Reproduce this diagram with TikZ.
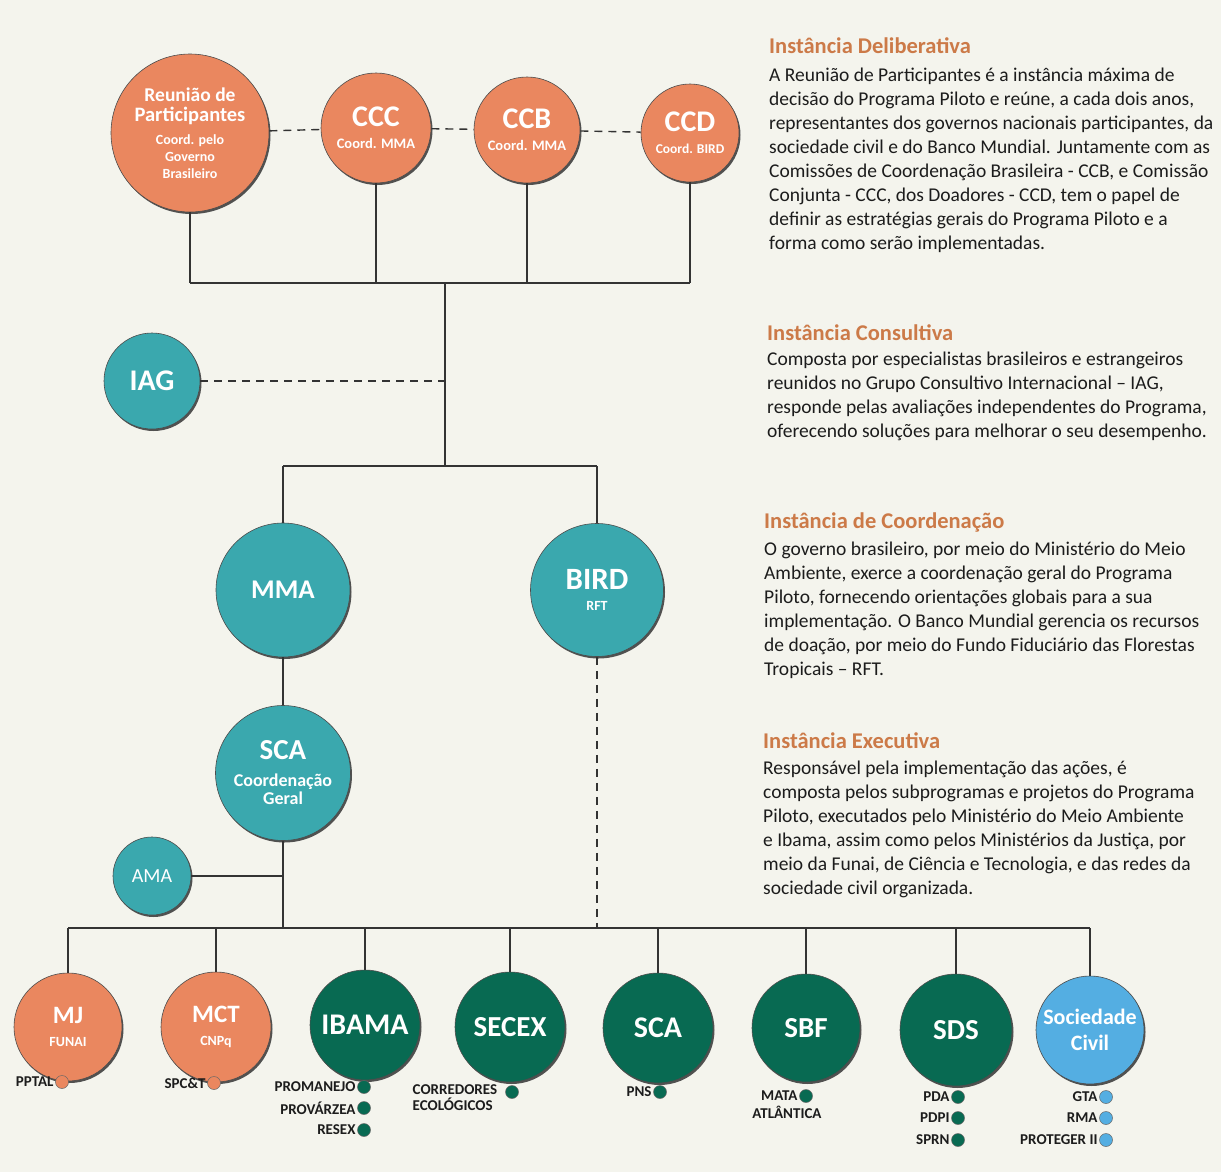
\documentclass[tikz,border=0pt]{standalone}
\usepackage{fontspec}
\setmainfont{Carlito}
\usetikzlibrary{shadows}
\definecolor{orangeC}{RGB}{234,135,95}
\definecolor{tealC}{RGB}{58,168,174}
\definecolor{greenC}{RGB}{8,106,82}
\definecolor{blueC}{RGB}{84,174,226}
\definecolor{headC}{RGB}{204,122,72}
\definecolor{bgC}{RGB}{244,244,237}
\definecolor{txtC}{RGB}{28,28,28}
% size, baseline skip
\newcommand\OrgF[2]{\fontsize{#1}{#2}\selectfont\bfseries}
\begin{document}
\begin{tikzpicture}[x=1pt,y=-1pt,
  org/.style={circle, inner sep=0pt, minimum size=#1, text=white, align=center,
    draw=black!70, line width=0.6pt,
    drop shadow={shadow xshift=1.5pt, shadow yshift=-2pt, fill=black!75, opacity=0.9}},
  lsk/.style={font=\fontsize{10}{#1}\selectfont},
  conn/.style={line width=1.4pt, black!80},
  dashc/.style={conn, dash pattern=on 8pt off 6pt},
  dot/.style={circle, inner sep=0pt, minimum size=13pt, draw=black!60, line width=0.5pt},
  lab/.style={font=\fontsize{15}{15}\selectfont\bfseries, text=txtC, inner sep=1.5pt},
  head/.style={font=\fontsize{22.5}{23}\selectfont\bfseries, text=headC, anchor=base west, inner sep=0pt},
  body/.style={font=\fontsize{19.5}{24}\selectfont, text=txtC, anchor=north west, align=left, inner sep=0pt}
]
\fill[bgC] (0,0) rectangle (1221,1172);
\useasboundingbox (0,0) rectangle (1221,1172);

% --- Deliberative level
\node[org=158pt, fill=orangeC, lsk=17pt] (reu) at (190,133)
  {\OrgF{19.5}{17}Reunião de\\[3pt]\OrgF{20.5}{17}Participantes\\[6pt]\OrgF{14}{17}Coord. pelo\\\OrgF{14}{17}Governo\\\OrgF{14}{17}Brasileiro};
\node[org=110pt, fill=orangeC, lsk=22pt] (ccc) at (376,128) {\OrgF{30}{22}CCC\\\OrgF{14.5}{22}Coord. MMA};
\node[org=106pt, fill=orangeC, lsk=22pt] (ccb) at (527,130) {\OrgF{30}{22}CCB\\\OrgF{14.5}{22}Coord. MMA};
\node[org=98pt, fill=orangeC, lsk=22pt] (ccd) at (690,133) {\OrgF{30}{22}CCD\\\OrgF{13.5}{22}Coord. BIRD};

\coordinate (bar1) at (445,283);
\coordinate (bar2) at (445,466);
\coordinate (bar3) at (283,928);

\draw[dashc] (reu) -- (ccc);
\draw[dashc] (ccc) -- (ccb);
\draw[dashc] (ccb) -- (ccd);
\foreach \n in {reu,ccc,ccb,ccd}{\draw[conn] (\n.south) -- (\n.south |- bar1);}
\draw[conn] (reu.south |- bar1) -- (ccd.south |- bar1);
\draw[conn] (bar1) -- (bar2);

% --- Consultive
\node[org=96pt, fill=tealC] (iag) at (152,381) {\OrgF{30}{30}IAG};
\draw[dashc] (iag.east) -- (iag.east -| bar1);

% --- Coordination
\node[org=134pt, fill=tealC] (mma) at (283,590) {\OrgF{27}{27}MMA};
\node[org=133pt, fill=tealC, lsk=21pt] (bird) at (597,590) {\OrgF{31}{21}BIRD\\\OrgF{14}{21}RFT};
\draw[conn] (mma.north |- bar2) -- (bird.north |- bar2);
\draw[conn] (mma.north |- bar2) -- (mma.north);
\draw[conn] (bird.north |- bar2) -- (bird.north);

\node[org=135pt, fill=tealC, lsk=18pt] (sca) at (283,773)
  {\OrgF{29}{17}SCA\\[9pt]\OrgF{18}{17}Coordenação\\\OrgF{18}{17}Geral};
\node[org=78pt, fill=tealC] (ama) at (152,876) {\fontsize{20}{20}\selectfont AMA};
\draw[conn] (mma.south) -- (sca.north);
\draw[conn] (sca.south) -- (bar3);
\draw[conn] (ama.east) -- (ama.east -| bar3);
\draw[dashc] (bird.south) -- (bird.south |- bar3);

% --- Executive
\node[org=108pt, fill=orangeC, lsk=23pt] (mj) at (68,1027) {\OrgF{25}{23}MJ\\\OrgF{14}{23}FUNAI};
\node[org=110pt, fill=orangeC, lsk=23pt] (mct) at (216,1027) {\OrgF{25}{23}MCT\\\OrgF{14}{23}CNPq};
\node[org=110pt, fill=greenC] (ibama) at (365,1025) {\OrgF{30}{30}IBAMA};
\node[org=110pt, fill=greenC] (secex) at (510,1027) {\OrgF{29}{30}SECEX};
\node[org=110pt, fill=greenC] (scab) at (658,1028) {\OrgF{30}{30}SCA};
\node[org=108pt, fill=greenC] (sbf) at (806,1028) {\OrgF{29}{30}SBF};
\node[org=112pt, fill=greenC] (sds) at (956,1030) {\OrgF{29}{30}SDS};
\node[org=108pt, fill=blueC, lsk=26pt] (soc) at (1090,1030) {\OrgF{22}{26}Sociedade\\\OrgF{22}{26}Civil};
\draw[conn] (mj.north |- bar3) -- (soc.north |- bar3);
\foreach \n in {mj,mct,ibama,secex,scab,sbf,sds,soc}{\draw[conn] (\n.north |- bar3) -- (\n.north);}

% --- sub-programme labels
\node[dot, fill=orangeC] (d1) at (62,1082) {};
\node[lab, anchor=east] at (d1.west) {PPTAL};
\node[dot, fill=orangeC] (d2) at (214,1083) {};
\node[lab, anchor=east] at (d2.west) {SPC\&T};
\node[dot, fill=greenC] (d3) at (364,1087) {};
\node[lab, anchor=east] at (d3.west) {PROMANEJO};
\node[dot, fill=greenC] (d4) at (364,1108) {};
\node[lab, anchor=east] at (d4.west) {PROVÁRZEA};
\node[dot, fill=greenC] (d5) at (364,1130) {};
\node[lab, anchor=east] at (d5.west) {RESEX};
\node[dot, fill=greenC] (d6) at (512,1092) {};
\node[lab, anchor=north west, align=left, font=\fontsize{15}{16}\selectfont\bfseries] (l6) at (411,1083) {CORREDORES\\ECOLÓGICOS};
\node[dot, fill=greenC] (d7) at (660,1092) {};
\node[lab, anchor=east] at (d7.west) {PNS};
\node[dot, fill=greenC] (d8) at (806,1096) {};
\node[lab, anchor=east] at (d8.west) {MATA};
\node[lab] (l8) at (787,1112) {ATLÂNTICA};
\node[dot, fill=greenC] (d9) at (958,1097) {};
\node[lab, anchor=east] at (d9.west) {PDA};
\node[dot, fill=greenC] (d10) at (958,1118) {};
\node[lab, anchor=east] at (d10.west) {PDPI};
\node[dot, fill=greenC] (d11) at (958,1140) {};
\node[lab, anchor=east] at (d11.west) {SPRN};
\node[dot, fill=blueC] (d12) at (1106,1097) {};
\node[lab, anchor=east] at (d12.west) {GTA};
\node[dot, fill=blueC] (d13) at (1106,1118) {};
\node[lab, anchor=east] at (d13.west) {RMA};
\node[dot, fill=blueC] (d14) at (1106,1140) {};
\node[lab, anchor=east] at (d14.west) {PROTEGER II};

% --- right-hand texts
\node[head] (h1) at (769,54) {Instância Deliberativa};
\node[body] (b1) at (769,68) {A Reunião de Participantes é a instância máxima de\\
decisão do Programa Piloto e reúne, a cada dois anos,\\
representantes dos governos nacionais participantes, da\\
sociedade civil e do Banco Mundial. Juntamente com as\\
Comissões de Coordenação Brasileira - CCB, e Comissão\\
Conjunta - CCC,  dos Doadores - CCD, tem o papel de\\
definir as estratégias gerais do Programa Piloto e a\\
forma como serão implementadas.};

\node[head] (h2) at (767,340) {Instância Consultiva};
\node[body] (b2) at (767,352) {Composta por especialistas brasileiros e estrangeiros\\
reunidos no Grupo Consultivo Internacional – IAG,\\
responde pelas avaliações independentes do Programa,\\
oferecendo soluções para melhorar o seu desempenho.};

\node[head] (h3) at (764,528) {Instância de Coordenação};
\node[body] (b3) at (764,542) {O governo brasileiro, por meio do Ministério do Meio\\
Ambiente, exerce a coordenação geral do Programa\\
Piloto, fornecendo orientações globais para a sua\\
implementação. O Banco Mundial gerencia os recursos\\
de doação, por meio do Fundo Fiduciário das Florestas\\
Tropicais – RFT.};

\node[head] (h4) at (763,748) {Instância Executiva};
\node[body] (b4) at (763,761) {Responsável pela implementação das ações, é\\
composta pelos subprogramas e projetos do Programa\\
Piloto, executados pelo Ministério do Meio Ambiente\\
e Ibama, assim como pelos Ministérios da Justiça, por\\
meio da Funai, de Ciência e Tecnologia, e das redes da\\
sociedade civil organizada.};
\end{tikzpicture}
\end{document}
